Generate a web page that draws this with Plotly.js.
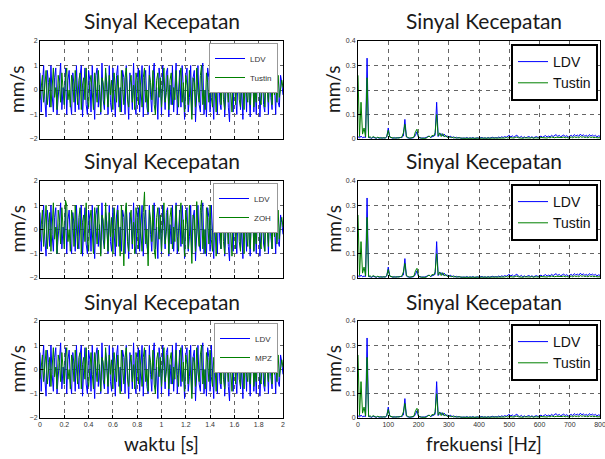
<!DOCTYPE html>
<html>
<head>
<meta charset="utf-8">
<script src="https://cdn.plot.ly/plotly-3.0.1.min.js"></script>
<style>html,body{margin:0;padding:0;background:#fff;}#chart{width:605px;height:459px;}</style>
</head>
<body>
<div id="chart"></div>
<script>
// ---- Data ----
var timeStart = 0, timeStep = 0.01;   // s
var freqStart = 0, freqStep = 5;      // Hz
var freqTicks = [0, 100, 200, 300, 400, 500, 600, 700, 800];

var ldvTime = [
0.7,-0.9,0.2,1.0,-0.4,-1.1,0.8,0.3,-0.7,1.0,-0.2,-0.9,0.5,0.9,-1.0,-0.3,0.6,1.1,-0.8,0.1,
-0.6,0.9,-1.0,0.4,0.8,-0.5,-1.0,0.7,0.2,-0.9,1.0,-0.3,-0.8,0.6,1.0,-1.1,0.0,0.9,-0.6,-1.0,
0.8,0.4,-0.9,1.0,-0.1,-1.2,0.6,0.9,-0.7,0.2,-1.0,1.1,-0.4,-0.8,0.7,0.3,-1.0,1.0,-0.5,-0.9,
0.9,-0.2,-1.1,0.6,1.0,-0.7,0.1,-0.9,0.8,0.5,-1.0,1.0,-0.3,-1.2,0.7,0.2,-0.8,1.1,-0.6,-1.0,
0.5,0.9,-0.9,0.0,1.0,-1.1,0.4,0.8,-0.7,-1.0,1.0,-0.2,-0.9,0.6,1.1,-0.8,0.1,-1.2,0.9,0.4,
-1.0,1.0,-0.3,-0.8,0.7,0.9,-1.1,0.2,-0.6,1.0,-0.9,0.4,1.1,-1.0,-0.2,0.8,-0.7,1.0,0.1,-1.2,
0.6,0.9,-0.9,-0.3,1.0,-1.0,0.5,0.8,-1.3,0.2,1.0,-0.6,-0.9,0.7,1.1,-1.0,0.0,-1.1,0.9,0.5,
-0.9,1.0,-0.4,-1.2,0.8,0.3,-1.0,1.1,-0.5,-0.8,0.6,1.0,-1.1,0.2,0.9,-0.7,-1.3,1.0,0.4,-0.9,
1.1,-0.3,-1.0,0.7,0.9,-0.8,0.1,-1.2,1.0,0.5,-0.9,1.0,-0.2,-1.1,0.6,1.0,-0.9,0.3,-1.0,0.8,
0.9,-1.1,0.0,1.0,-0.6,-0.9,0.7,0.4,-1.0,1.0,-0.3,-0.8,0.8,0.2,-1.0,0.9,-0.5,-0.7,0.6,0.3,
-0.2
];

var tustinTime = [
-0.4,0.3,0.6,-0.5,0.2,0.8,-0.6,-0.1,0.5,-0.7,0.4,0.9,-0.3,0.1,-0.8,0.6,0.2,-0.5,0.7,-0.2,
-0.6,0.5,0.9,-0.4,0.0,-0.7,0.6,0.3,-0.5,0.8,-0.1,-0.6,0.4,0.7,-0.8,0.2,0.5,-0.4,0.9,-0.3,
-0.7,0.3,0.6,-0.2,-0.8,0.7,0.1,-0.5,0.8,-0.4,-0.9,0.5,0.3,-0.6,0.9,0.0,-0.7,0.6,-0.2,0.4,
-0.8,0.7,0.2,-0.5,0.6,-0.3,-0.9,0.8,0.1,-0.6,0.5,0.9,-0.4,-0.7,0.3,0.6,-0.5,0.2,-0.8,0.7,
0.4,-0.6,0.8,-0.1,-0.7,0.5,0.9,-0.5,0.0,-0.9,0.6,0.3,-0.4,0.8,-0.6,-1.0,0.4,0.7,-0.3,0.5,
-0.7,0.2,0.9,-0.5,-0.1,0.6,-0.8,0.4,0.7,-0.6,0.1,-0.4,0.8,-0.2,-0.7,0.5,0.9,-0.5,0.3,-0.9,
0.6,0.2,-0.6,0.8,-0.4,-1.2,0.5,0.3,-0.7,0.9,-0.1,-0.5,0.6,1.0,-0.6,0.0,-0.8,0.7,0.3,-0.5,
0.8,-0.3,-0.7,0.5,0.2,-0.9,0.7,-0.1,0.4,-0.6,0.9,-0.4,-0.8,0.6,0.2,-0.5,0.8,-0.2,-0.9,0.5,
0.7,-0.6,0.1,0.9,-0.4,-0.7,0.6,0.3,-0.8,0.8,-0.2,-0.5,0.7,-0.6,0.4,0.9,-0.7,0.0,-0.5,0.6,
0.8,-0.4,-0.6,0.5,0.2,-0.7,0.6,-0.1,-0.5,0.7,0.3,-0.6,0.4,-0.2,0.5,-0.5,0.6,-0.3,0.2,0.4,
0.1
];

var zohTime = [
-0.5,0.4,0.8,-0.7,0.2,1.0,-0.8,-0.1,0.7,-0.9,0.5,1.1,-0.4,0.1,-1.0,0.8,0.3,-0.6,0.9,-0.2,
-0.8,1.2,1.0,-0.5,0.0,-0.9,0.8,0.4,-0.7,1.0,-0.1,-0.8,0.5,0.9,-1.0,0.3,0.6,-0.5,1.1,-0.4,
-0.9,0.4,0.8,-0.3,-1.0,0.9,0.1,-0.6,1.0,-0.5,-1.1,0.6,0.4,-0.8,1.1,0.0,-0.9,0.7,-0.3,0.5,
-1.0,0.9,0.2,-0.7,0.8,-0.4,-1.1,1.0,0.1,-1.5,0.6,1.1,-0.5,-0.9,0.4,0.8,-0.6,0.3,-1.0,0.9,
0.5,-0.8,1.0,-0.1,-0.9,0.7,1.55,-0.6,0.0,-1.5,0.8,0.4,-0.5,1.0,-0.8,-1.2,0.5,0.9,-0.4,0.6,
-0.9,0.3,1.1,-0.6,-0.1,0.8,-1.0,0.5,0.9,-0.8,0.1,-0.5,1.0,-0.3,-0.9,0.6,1.1,-0.6,0.4,-1.1,
0.8,0.2,-0.8,1.0,-0.5,-1.4,0.6,0.4,-0.9,1.15,-0.1,-0.7,0.8,1.2,-0.8,0.0,-1.0,0.9,0.4,-0.6,
1.0,-0.4,-0.9,0.6,0.2,-1.1,0.9,-0.1,0.5,-0.8,1.1,-0.5,-1.0,0.8,0.3,-0.6,1.0,-0.3,-1.1,0.6,
0.9,-0.8,0.1,1.1,-0.5,-0.9,0.8,0.4,-1.0,1.0,-0.2,-0.7,0.9,-0.8,0.5,1.1,-0.9,0.0,-0.6,0.8,
1.0,-0.5,-0.8,0.6,0.3,-0.9,0.8,-0.1,-0.7,0.9,0.4,-0.8,0.5,-0.3,0.7,-0.6,0.8,-0.4,0.3,0.5,
0.1
];

var mpzTime = [
-0.4,0.3,0.6,-0.5,0.3,0.8,-0.6,-0.1,0.5,-0.7,0.4,0.9,-0.3,0.1,-0.8,0.6,0.3,-0.5,0.7,-0.2,
-0.6,0.5,0.9,-0.4,0.0,-0.8,0.6,0.3,-0.5,0.8,-0.1,-0.6,0.5,0.7,-0.8,0.2,0.5,-0.4,0.9,-0.3,
-0.7,0.3,0.7,-0.2,-0.8,0.7,0.1,-0.5,0.8,-0.4,-0.9,0.5,0.3,-0.6,0.9,0.0,-0.7,0.6,-0.2,0.4,
-0.8,0.7,0.2,-0.5,0.6,-0.3,-1.0,0.8,0.1,-0.6,0.5,0.9,-0.4,-0.7,0.3,0.6,-0.5,0.2,-0.8,0.7,
0.4,-0.6,0.8,-0.1,-0.7,0.5,0.9,-0.5,0.0,-0.9,0.6,0.3,-0.4,0.8,-0.6,-1.0,0.4,0.7,-0.3,0.5,
-0.7,0.2,0.9,-0.5,-0.1,0.6,-0.8,0.4,0.7,-0.6,0.1,-0.4,0.8,-0.2,-0.7,0.5,0.9,-0.5,0.3,-0.9,
0.6,0.2,-0.6,0.8,-0.4,-1.2,0.5,0.3,-0.7,0.9,-0.1,-0.5,0.6,1.0,-0.6,0.0,-0.8,0.7,0.3,-0.5,
0.8,-0.3,-0.7,0.5,0.2,-0.9,0.7,-0.1,0.4,-0.6,0.9,-0.4,-0.8,0.6,0.2,-0.5,0.8,-0.2,-0.9,0.5,
0.7,-0.6,0.1,0.9,-0.4,-0.7,0.6,0.3,-0.8,0.8,-0.2,-0.5,0.7,-0.6,0.4,0.9,-0.7,0.0,-0.5,0.6,
0.8,-0.4,-0.6,0.5,0.2,-0.7,0.6,-0.1,-0.5,0.7,0.3,-0.6,0.4,-0.2,0.5,-0.5,0.6,-0.3,0.2,0.4,
0.1
];

var ldvSpec = [
0.010,0.004,0.012,0.005,0.008,0.006,0.330,0.006,0.005,0.003,
0.007,0.004,0.003,0.006,0.003,0.006,0.003,0.005,0.004,0.008,
0.045,0.008,0.005,0.003,0.006,0.003,0.005,0.004,0.006,0.006,
0.012,0.080,0.008,0.004,0.003,0.005,0.004,0.006,0.015,0.030,
0.006,0.004,0.003,0.005,0.004,0.006,0.008,0.012,0.006,0.010,
0.012,0.015,0.150,0.010,0.018,0.022,0.012,0.020,0.010,0.012,
0.006,0.012,0.005,0.009,0.004,0.007,0.004,0.006,0.003,0.005,
0.004,0.003,0.006,0.002,0.005,0.003,0.006,0.002,0.004,0.005,
0.003,0.004,0.006,0.003,0.005,0.002,0.006,0.003,0.005,0.007,
0.004,0.006,0.004,0.008,0.005,0.009,0.006,0.010,0.007,0.012,
0.015,0.008,0.013,0.007,0.012,0.016,0.008,0.006,0.011,0.005,
0.009,0.005,0.008,0.010,0.006,0.009,0.005,0.008,0.010,0.006,
0.009,0.012,0.007,0.011,0.014,0.008,0.012,0.009,0.015,0.010,
0.013,0.018,0.010,0.015,0.009,0.013,0.016,0.010,0.014,0.008,
0.012,0.015,0.010,0.018,0.012,0.016,0.011,0.020,0.013,0.017,
0.011,0.015,0.010,0.018,0.012,0.016,0.011,0.015,0.009,0.013,
0.011
];

var tustinSpec = [
0.260,0.010,0.150,0.020,0.045,0.008,0.250,0.006,0.009,0.004,
0.010,0.005,0.003,0.007,0.004,0.003,0.005,0.003,0.004,0.010,
0.035,0.008,0.006,0.004,0.003,0.005,0.003,0.004,0.006,0.008,
0.025,0.060,0.010,0.005,0.003,0.004,0.005,0.008,0.030,0.040,
0.008,0.004,0.003,0.003,0.004,0.003,0.008,0.012,0.006,0.015,
0.012,0.025,0.100,0.012,0.025,0.010,0.022,0.008,0.015,0.006,
0.010,0.006,0.008,0.004,0.007,0.003,0.005,0.003,0.004,0.003,
0.003,0.004,0.002,0.004,0.003,0.002,0.004,0.003,0.002,0.003,
0.002,0.003,0.004,0.002,0.003,0.002,0.004,0.003,0.002,0.004,
0.003,0.004,0.003,0.005,0.004,0.003,0.005,0.004,0.006,0.004,
0.006,0.005,0.007,0.004,0.006,0.008,0.005,0.004,0.006,0.003,
0.005,0.004,0.003,0.005,0.004,0.006,0.003,0.005,0.004,0.006,
0.004,0.006,0.005,0.007,0.005,0.004,0.006,0.005,0.008,0.006,
0.005,0.007,0.006,0.008,0.005,0.006,0.008,0.005,0.007,0.004,
0.006,0.008,0.005,0.009,0.006,0.008,0.005,0.010,0.007,0.009,
0.006,0.008,0.005,0.009,0.006,0.008,0.005,0.007,0.005,0.006,
0.005
];

var panelTitle = "Sinyal Kecepatan";
var yTitle = "mm/s";
var timeTitle = "waktu [s]";
var freqTitle = "frekuensi [Hz]";
var greenNamesTime = ["Tustin", "ZOH", "MPZ"];
var greenSeriesTime = [tustinTime, zohTime, mpzTime];
var greenNameSpec = "Tustin";

// ---- Layout helpers ----
var W = 605, H = 459;
var BLUE = "#0000ff", GREEN = "#008000";
function px(x){ return x / W; }
function py(y){ return 1 - y / H; }
var leftDom = [px(40), px(283)];
var rightDom = [px(358), px(600)];
var rows = [[41, 139], [181, 278], [321, 418]];

var traces = [];
var layout = {
  width: W, height: H,
  margin: {l: 0, r: 0, t: 0, b: 0},
  paper_bgcolor: "#fff", plot_bgcolor: "#fff",
  showlegend: true,
  annotations: []
};
var titleFam = "Lato, 'Open Sans', sans-serif";
var titleFont = {family: titleFam, size: 21, color: "#1a1a1a"};
var labFont = {family: titleFam, size: 19, color: "#1a1a1a"};
var tickFont = {family: "'Liberation Sans', Arial, sans-serif", size: 7, color: "#333"};

function axisCommon(){
  return {
    showline: true, mirror: true, linecolor: "#000", linewidth: 1,
    ticks: "inside", ticklen: 3, tickcolor: "#000",
    showgrid: true, gridcolor: "#666", griddash: "4px,4px", gridwidth: 1,
    zeroline: false, tickfont: tickFont, fixedrange: true, ticklabeloverflow: "allow"
  };
}

for (var r = 0; r < 3; r++) {
  var yd = [py(rows[r][1]), py(rows[r][0])];
  var iL = 2 * r + 1, iR = 2 * r + 2;
  var suffL = (iL === 1 ? "" : String(iL));
  var axL = axisCommon(); axL.domain = leftDom; axL.range = [0, 2]; axL.dtick = 0.2; axL.anchor = "y" + suffL;
  axL.showticklabels = (r === 2);
  var ayL = axisCommon(); ayL.domain = yd; ayL.range = [-2, 2]; ayL.dtick = 1; ayL.anchor = "x" + suffL;
  layout["xaxis" + suffL] = axL; layout["yaxis" + suffL] = ayL;
  var axR = axisCommon(); axR.domain = rightDom; axR.range = [0, 800];
  axR.tickmode = "array"; axR.tickvals = freqTicks; axR.anchor = "y" + iR;
  axR.showticklabels = (r === 2);
  var ayR = axisCommon(); ayR.domain = yd; ayR.range = [0, 0.4]; ayR.dtick = 0.1; ayR.anchor = "x" + iR;
  layout["xaxis" + iR] = axR; layout["yaxis" + iR] = ayR;

  var legL = "legend" + suffL, legR = "legend" + iR;
  traces.push({type: "scatter", mode: "lines", x0: timeStart, dx: timeStep, y: ldvTime, name: "LDV",
    line: {color: BLUE, width: 1}, xaxis: "x" + suffL, yaxis: "y" + suffL, legend: legL});
  traces.push({type: "scatter", mode: "lines", x0: timeStart, dx: timeStep, y: greenSeriesTime[r], name: greenNamesTime[r],
    line: {color: GREEN, width: 1}, xaxis: "x" + suffL, yaxis: "y" + suffL, legend: legL});
  traces.push({type: "scatter", mode: "lines", x0: freqStart, dx: freqStep, y: ldvSpec, name: "LDV",
    line: {color: BLUE, width: 1}, xaxis: "x" + iR, yaxis: "y" + iR, legend: legR});
  traces.push({type: "scatter", mode: "lines", x0: freqStart, dx: freqStep, y: tustinSpec, name: greenNameSpec,
    line: {color: GREEN, width: 1}, xaxis: "x" + iR, yaxis: "y" + iR, legend: legR});

  layout[legL] = {x: px(278), y: py(rows[r][0] + 2), xanchor: "right", yanchor: "top",
    bgcolor: "#fff", bordercolor: "#999", borderwidth: 1,
    font: {family: "'Liberation Sans', Arial, sans-serif", size: 8, color: "#333"},
    itemwidth: 30, tracegroupgap: 0};
  layout[legR] = {x: px(598), y: py(rows[r][0] + 3), xanchor: "right", yanchor: "top",
    bgcolor: "#fff", bordercolor: "#000", borderwidth: 2,
    font: {family: "'Liberation Sans', Arial, sans-serif", size: 14, color: "#111"},
    itemwidth: 30, tracegroupgap: 0};

  var titleY = py(rows[r][0] - 20);
  layout.annotations.push({text: panelTitle, xref: "paper", yref: "paper", x: px(161.5), y: titleY,
    xanchor: "center", yanchor: "middle", showarrow: false, font: titleFont});
  layout.annotations.push({text: panelTitle, xref: "paper", yref: "paper", x: px(484), y: titleY,
    xanchor: "center", yanchor: "middle", showarrow: false, font: titleFont});
  var midY = py((rows[r][0] + rows[r][1]) / 2);
  layout.annotations.push({text: yTitle, xref: "paper", yref: "paper", x: px(17), y: midY, textangle: -90,
    xanchor: "center", yanchor: "middle", showarrow: false, font: labFont});
  layout.annotations.push({text: yTitle, xref: "paper", yref: "paper", x: px(333), y: midY, textangle: -90,
    xanchor: "center", yanchor: "middle", showarrow: false, font: labFont});
}
layout.annotations.push({text: timeTitle, xref: "paper", yref: "paper", x: px(161.5), y: py(443),
  xanchor: "center", yanchor: "middle", showarrow: false, font: labFont});
layout.annotations.push({text: freqTitle, xref: "paper", yref: "paper", x: px(484), y: py(443),
  xanchor: "center", yanchor: "middle", showarrow: false, font: labFont});

Plotly.newPlot("chart", traces, layout, {displayModeBar: false, staticPlot: true});
</script>
</body>
</html>
